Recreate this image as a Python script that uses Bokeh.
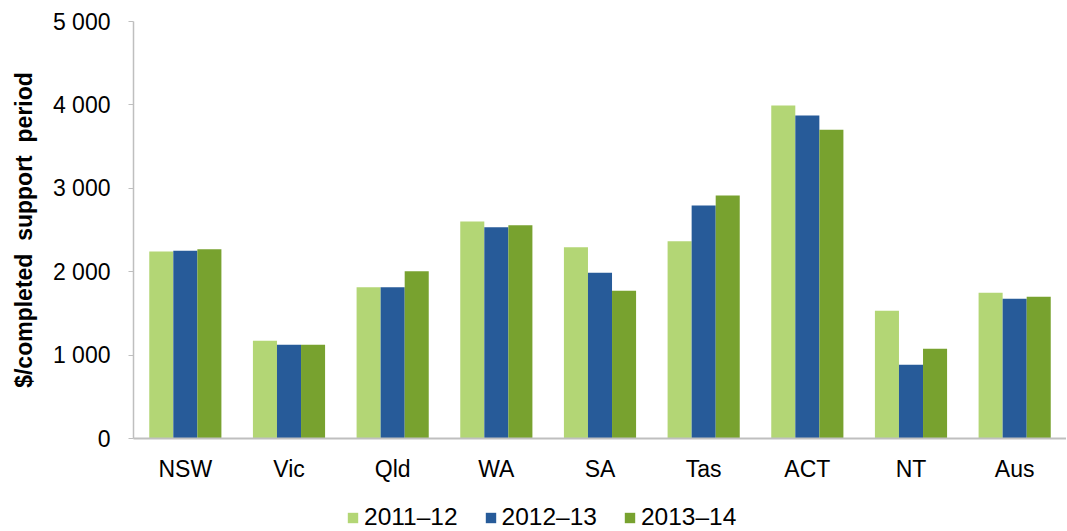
from bokeh.plotting import figure
from bokeh.models import FactorRange, ColumnDataSource, FixedTicker, Legend, LegendItem, Range1d
from bokeh.layouts import column
from bokeh.transform import dodge
from bokeh.embed import file_html
from bokeh.resources import INLINE

categories = ["NSW", "Vic", "Qld", "WA", "SA", "Tas", "ACT", "NT", "Aus"]
series_names = ["2011\u201312", "2012\u201313", "2013\u201314"]
v2011 = [2242, 1171, 1814, 2602, 2294, 2366, 3993, 1531, 1747]
v2012 = [2250, 1123, 1814, 2534, 1987, 2794, 3873, 884, 1675]
v2013 = [2270, 1123, 2006, 2558, 1771, 2914, 3701, 1076, 1699]
colors = ["#b3d675", "#275b99", "#78a22f"]
y_ticks = [0, 1000, 2000, 3000, 4000, 5000]
y_tick_labels = ["0", "1 000", "2 000", "3 000", "4 000", "5 000"]

src = ColumnDataSource(dict(cat=categories, a=v2011, b=v2012, c=v2013))
xr = FactorRange(*categories, range_padding=0)

p = figure(x_range=xr, y_range=Range1d(0, 5000),
           width=1066, height=490, output_backend="svg", toolbar_location=None,
           min_border_left=133, min_border_right=0, min_border_top=21, min_border_bottom=52)
p.outline_line_color = None
p.xgrid.grid_line_color = None
p.ygrid.grid_line_color = None

w = 0.232
offsets = [-0.232, 0.0, 0.232]
cols = ["a", "b", "c"]
for col, off, color in zip(cols, offsets, colors):
    p.vbar(x=dodge("cat", off, range=xr), top=col, width=w, source=src,
           fill_color=color, line_color=None)

p.yaxis.ticker = FixedTicker(ticks=y_ticks)
p.yaxis.major_label_overrides = {t: l for t, l in zip(y_ticks, y_tick_labels)}
p.yaxis.axis_line_color = "#bfbfbf"
p.yaxis.axis_line_width = 1.5
p.yaxis.major_tick_line_color = "#bfbfbf"
p.yaxis.major_tick_out = 5
p.yaxis.major_tick_in = 0
p.yaxis.minor_tick_line_color = None
p.yaxis.major_label_text_font = "Liberation Sans"
p.yaxis.major_label_text_font_size = "23px"
p.yaxis.major_label_text_color = "#000000"
p.yaxis.major_label_standoff = 18
p.yaxis.axis_label = "$/completed\u00a0 support\u00a0 period"
p.yaxis.axis_label_text_font = "Liberation Sans"
p.yaxis.axis_label_text_font_style = "bold"
p.yaxis.axis_label_text_font_size = "23px"
p.yaxis.axis_label_text_color = "#000000"
p.yaxis.axis_label_standoff = 13

p.xaxis.axis_line_color = "#bfbfbf"
p.xaxis.axis_line_width = 2
p.xaxis.major_tick_line_color = None
p.xaxis.minor_tick_line_color = None
p.xaxis.major_label_text_font = "Liberation Sans"
p.xaxis.major_label_text_font_size = "23px"
p.xaxis.major_label_text_color = "#000000"
p.xaxis.major_label_standoff = 11

# legend figure
lf = figure(x_range=xr, y_range=Range1d(0, 5000), width=1066, height=41,
            output_backend="svg", toolbar_location=None,
            min_border_left=0, min_border_right=0, min_border_top=0, min_border_bottom=0)
lf.outline_line_color = None
lf.axis.visible = False
lf.grid.visible = False
lrs = []
for col, off, color in zip(cols, offsets, colors):
    r = lf.vbar(x=dodge("cat", off, range=xr), top=col, width=w, source=src,
                fill_color=color, line_color=None, visible=False)
    lrs.append(r)

legend = Legend(items=[LegendItem(label=n, renderers=[r]) for n, r in zip(series_names, lrs)],
                orientation="horizontal", location=(213, 0),
                label_text_font="Liberation Sans", label_text_font_size="24.5px",
                label_text_color="#000000",
                glyph_width=13, glyph_height=13, label_standoff=5, spacing=26,
                border_line_color=None, background_fill_alpha=0, padding=0, margin=0)
lf.add_layout(legend, "center")

layout = column(p, lf, spacing=0)
open("out.html", "w").write(file_html(layout, INLINE))
